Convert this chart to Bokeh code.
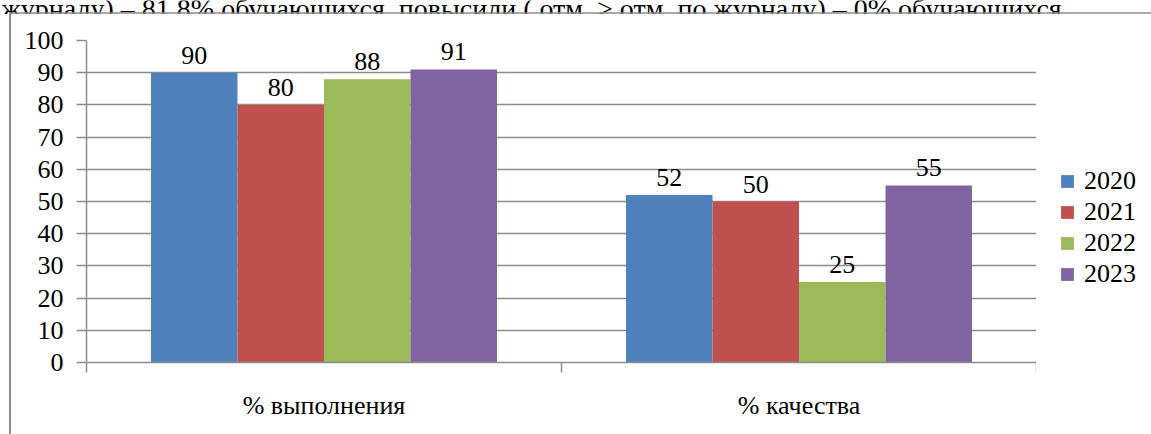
from bokeh.plotting import figure
from bokeh.models import Range1d, FixedTicker, Legend, LegendItem, LabelSet, ColumnDataSource, Div
from bokeh.layouts import column, row
from bokeh.core.properties import value
from bokeh.embed import file_html
from bokeh.resources import INLINE

categories = ["% выполнения", "% качества"]
years = ["2020", "2021", "2022", "2023"]
values_2020 = [90, 52]
values_2021 = [80, 50]
values_2022 = [88, 25]
values_2023 = [91, 55]
series = [values_2020, values_2021, values_2022, values_2023]
colors = ["#4F81BD", "#C0504D", "#9BBB59", "#8064A2"]
y_ticks = [0, 10, 20, 30, 40, 50, 60, 70, 80, 90, 100]
top_text = "журналу) – 81,8% обучающихся, повысили ( отм. > отм. по журналу) – 0% обучающихся."

FONT = "Liberation Serif"
GRAY = "#8c8c8c"

def bare(w, h, xr, yr):
    f = figure(width=w, height=h, output_backend="svg", toolbar_location=None,
               x_range=xr, y_range=yr, min_border=0,
               x_axis_location=None, y_axis_location=None)
    f.grid.visible = False
    f.outline_line_color = None
    f.background_fill_color = "white"
    f.border_fill_color = "white"
    return f

# top strip: clipped document text + top edge of chart border
T = bare(1151, 14, Range1d(0, 1151), Range1d(14, 0))
T.text(x=[1], y=[8], text=[top_text], text_font=value(FONT),
       text_font_size="28px", text_color="black", text_baseline="alphabetic")
T.segment(x0=[9], y0=[12.5], x1=[1151], y1=[12.5], line_color=GRAY, line_width=1.5)
T.segment(x0=[10], y0=[12.5], x1=[10], y1=[14], line_color=GRAY, line_width=2)

# left edge of the chart border
L = Div(text="", width=2, height=420, margin=(0, 0, 0, 9),
        styles={"background-color": GRAY})

# main chart
p = figure(width=1025, height=420, output_backend="svg", toolbar_location=None,
           x_range=Range1d(0, len(categories)), y_range=Range1d(0, 100),
           min_border_left=75, min_border_right=0, min_border_top=26, min_border_bottom=72)
p.outline_line_color = None
p.background_fill_color = "white"
p.border_fill_color = "white"

bar_w = 0.1821
n = len(years)
for i, (yr, vals, col) in enumerate(zip(years, series, colors)):
    xs = [c + 0.5 + (i - (n - 1) / 2) * bar_w for c in range(len(categories))]
    src = ColumnDataSource(dict(x=xs, top=vals, lab=[str(v) for v in vals]))
    p.vbar(x="x", top="top", width=bar_w, bottom=0, source=src,
           fill_color=col, line_color=None)
    p.add_layout(LabelSet(x="x", y="top", text="lab", source=src, y_offset=9,
                          text_align="center", text_baseline="alphabetic",
                          text_font=FONT, text_font_size="26px", text_color="black"))

ya = p.yaxis[0]
ya.ticker = FixedTicker(ticks=y_ticks)
ya.axis_line_color = GRAY
ya.axis_line_width = 1.5
ya.major_tick_line_color = GRAY
ya.major_tick_line_width = 1.5
ya.major_tick_out = 10
ya.major_tick_in = 0
ya.minor_tick_line_color = None
ya.major_label_text_font = FONT
ya.major_label_text_font_size = "26px"
ya.major_label_text_color = "black"
ya.major_label_standoff = 13

xa = p.xaxis[0]
xa.ticker = FixedTicker(ticks=[c + 0.5 for c in range(len(categories))],
                        minor_ticks=list(range(len(categories) + 1)))
xa.major_label_overrides = {c + 0.5: lab for c, lab in enumerate(categories)}
xa.axis_line_color = GRAY
xa.axis_line_width = 1.5
xa.major_tick_line_color = None
xa.major_tick_out = 0
xa.major_tick_in = 0
xa.minor_tick_line_color = GRAY
xa.minor_tick_line_width = 1.5
xa.minor_tick_out = 10
xa.minor_tick_in = 0
xa.major_label_text_font = FONT
xa.major_label_text_font_size = "26px"
xa.major_label_text_color = "black"
xa.major_label_standoff = 18

p.xgrid.grid_line_color = None
p.ygrid.ticker = FixedTicker(ticks=y_ticks)
p.ygrid.grid_line_color = GRAY
p.ygrid.grid_line_width = 1.5

# right strip: legend (its frame is aligned with the chart frame by the row layout)
R = bare(115, 420, Range1d(0, 1), Range1d(0, 1))
items = []
for yr, col in zip(years, colors):
    r = R.vbar(x=[0], top=[0], bottom=[0], width=0, fill_color=col, line_color=None)
    items.append(LegendItem(label=yr, renderers=[r]))
lg = Legend(items=items, location=(23, 73))
lg.orientation = "vertical"
lg.padding = 0
lg.margin = 0
lg.spacing = 1
lg.label_height = 30
lg.glyph_width = 16
lg.glyph_height = 16
lg.label_standoff = 9
lg.label_text_font = FONT
lg.label_text_font_size = "26px"
lg.label_text_color = "black"
lg.border_line_color = None
lg.background_fill_alpha = 0
R.add_layout(lg)

layout = column(T, row(L, p, R))
open("out.html", "w").write(file_html(layout, INLINE))
